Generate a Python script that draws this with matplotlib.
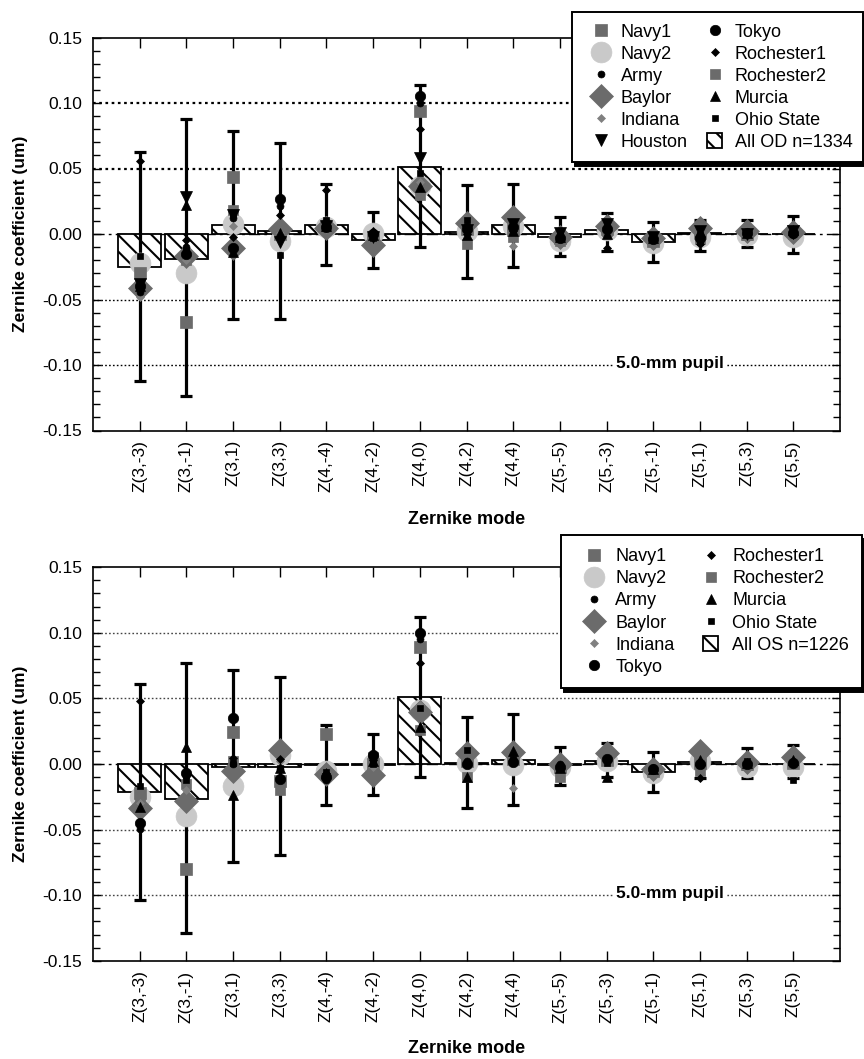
import matplotlib
matplotlib.use('Agg')
import matplotlib.pyplot as plt
from matplotlib.lines import Line2D
from matplotlib.patches import Patch, Rectangle
from matplotlib.legend_handler import HandlerPatch
from matplotlib.ticker import MultipleLocator, NullLocator

plt.rcParams['font.family'] = ['Liberation Sans', 'DejaVu Sans']
plt.rcParams['hatch.linewidth'] = 1.5

# ---------------- data ----------------
modes = ['Z(3,-3)', 'Z(3,-1)', 'Z(3,1)', 'Z(3,3)', 'Z(4,-4)', 'Z(4,-2)', 'Z(4,0)',
         'Z(4,2)', 'Z(4,4)', 'Z(5,-5)', 'Z(5,-3)', 'Z(5,-1)', 'Z(5,1)', 'Z(5,3)', 'Z(5,5)']
ytick_values = [-0.15, -0.10, -0.05, 0.00, 0.05, 0.10, 0.15]
ytick_labels = ['-0.15', '-0.10', '-0.05', '0.00', '0.05', '0.10', '0.15']

# Top panel: right eyes (OD)
od_mean = [-0.0254, -0.0188, 0.0069, 0.0023, 0.0071, -0.0046, 0.0509, 0.0018, 0.0069,
           -0.0025, 0.0030, -0.0059, 0.0005, 0.0003, 0.0003]
od_hi = [0.0623, 0.0875, 0.0789, 0.0697, 0.0380, 0.0170, 0.1137, 0.0374, 0.0380,
         0.0127, 0.0158, 0.0094, 0.0110, 0.0110, 0.0137]
od_lo = [-0.1120, -0.1240, -0.0650, -0.0646, -0.0234, -0.0260, -0.0102, -0.0338, -0.0250,
         -0.0168, -0.0127, -0.0210, -0.0127, -0.0097, -0.0143]

od_navy1 = [-0.030, -0.067, 0.0437, 0.000, 0.005, -0.003, 0.094, 0.004, 0.003, -0.003, 0.004, -0.005, 0.001, 0.000, 0.002]
od_navy2 = [-0.022, -0.030, 0.008, -0.005, 0.005, 0.0005, 0.037, 0.002, 0.006, -0.005, 0.003, -0.007, -0.002, -0.001, -0.002]
od_army = [-0.044, -0.010, 0.012, 0.021, 0.008, 0.000, 0.100, 0.006, 0.004, -0.001, 0.005, -0.003, 0.000, 0.001, 0.001]
od_baylor = [-0.041, -0.017, -0.011, 0.0036, 0.0043, -0.0084, 0.037, 0.0082, 0.0132, -0.002, 0.006, -0.0033, 0.0043, 0.002, 0.0018]
od_indiana = [-0.048, -0.020, 0.006, 0.001, 0.004, -0.004, 0.040, 0.001, -0.009, -0.003, 0.002, -0.004, 0.000, 0.000, 0.000]
od_houston = [-0.038, 0.028, 0.0145, -0.006, 0.006, -0.002, 0.058, 0.003, 0.008, 0.001, 0.008, -0.002, 0.002, 0.000, 0.002]
od_tokyo = [-0.040, -0.015, -0.011, 0.0265, 0.005, 0.000, 0.105, 0.004, 0.005, -0.003, 0.004, -0.004, -0.003, 0.001, 0.001]
od_rochester1 = [0.056, -0.0046, -0.0025, 0.0145, 0.0336, 0.002, 0.080, 0.000, 0.002, -0.002, -0.011, -0.003, -0.008, 0.000, -0.001]
od_rochester2 = [-0.033, -0.020, 0.0183, 0.002, 0.004, -0.003, 0.0298, -0.0076, -0.002, -0.005, 0.002, -0.005, -0.004, -0.001, 0.000]
od_murcia = [-0.040, 0.022, -0.014, 0.001, 0.006, -0.001, 0.036, -0.001, 0.002, -0.002, 0.000, -0.003, 0.0015, 0.001, 0.003]
od_ohio = [-0.017, -0.012, 0.015, -0.016, 0.0107, -0.003, 0.0465, 0.011, 0.004, -0.001, 0.006, -0.004, -0.006, 0.000, 0.000]

# Bottom panel: left eyes (OS)
os_mean = [-0.0216, -0.0269, -0.0020, -0.0020, -0.0010, -0.0010, 0.0508, 0.0010, 0.0030,
           -0.0010, 0.0020, -0.0058, 0.0018, 0.0003, 0.0003]
os_hi = [0.0610, 0.0767, 0.0720, 0.0660, 0.0295, 0.0229, 0.1123, 0.0356, 0.0380,
         0.0132, 0.0163, 0.0094, 0.0130, 0.0120, 0.0145]
os_lo = [-0.1040, -0.1290, -0.0750, -0.0690, -0.0310, -0.0234, -0.0097, -0.0335, -0.0310,
         -0.0160, -0.0097, -0.0210, -0.0110, -0.0105, -0.0110]

os_navy1 = [-0.0224, -0.080, 0.0242, -0.013, 0.0226, 0.000, 0.0894, 0.002, 0.004, -0.002, 0.003, -0.005, 0.001, 0.000, 0.001]
os_navy2 = [-0.025, -0.0396, -0.0168, 0.007, -0.005, 0.000, 0.041, 0.001, -0.001, -0.002, 0.002, -0.007, 0.002, -0.002, -0.002]
os_army = [-0.0498, -0.009, 0.000, -0.004, -0.012, 0.004, 0.095, 0.002, 0.003, 0.000, 0.004, -0.003, 0.000, 0.000, 0.000]
os_baylor = [-0.0338, -0.028, -0.005, 0.0107, -0.0076, -0.0084, 0.040, 0.0081, 0.0094, 0.000, 0.0081, -0.004, 0.0101, 0.0018, 0.005]
os_indiana = [-0.030, -0.020, 0.000, 0.002, -0.006, -0.002, 0.045, 0.000, -0.0185, -0.002, 0.002, -0.004, 0.000, 0.000, 0.001]
os_tokyo = [-0.045, -0.007, 0.0348, -0.0117, -0.0097, 0.0068, 0.100, 0.000, 0.0018, -0.002, 0.004, -0.004, 0.000, 0.000, 0.001]
os_rochester1 = [0.048, -0.005, 0.0048, 0.004, -0.007, 0.003, 0.0767, 0.001, 0.003, -0.001, 0.003, -0.003, -0.011, 0.001, 0.002]
os_rochester2 = [-0.028, -0.015, 0.002, -0.0198, -0.008, 0.0056, 0.026, -0.0097, 0.005, -0.0097, 0.004, -0.005, -0.005, -0.001, 0.001]
os_murcia = [-0.0325, 0.0132, -0.0236, -0.003, -0.007, 0.002, 0.028, -0.0097, 0.010, -0.003, -0.0097, -0.004, 0.003, 0.001, 0.003]
os_ohio = [-0.0168, -0.012, 0.001, -0.003, -0.006, 0.000, 0.043, 0.0107, 0.004, -0.003, 0.001, -0.004, -0.001, 0.002, -0.012]

od_labs = {'Navy1': od_navy1, 'Navy2': od_navy2, 'Army': od_army, 'Baylor': od_baylor,
           'Indiana': od_indiana, 'Houston': od_houston, 'Tokyo': od_tokyo,
           'Rochester1': od_rochester1, 'Rochester2': od_rochester2, 'Murcia': od_murcia,
           'Ohio State': od_ohio}
os_labs = {'Navy1': os_navy1, 'Navy2': os_navy2, 'Army': os_army, 'Baylor': os_baylor,
           'Indiana': os_indiana, 'Tokyo': os_tokyo, 'Rochester1': os_rochester1,
           'Rochester2': os_rochester2, 'Murcia': os_murcia, 'Ohio State': os_ohio}
od_bar_label = 'All OD n=1334'
os_bar_label = 'All OS n=1226'

# ---------------- styles ----------------
DARK = '#6b6b6b'
LIGHT = '#c9c9c9'
MID = '#808080'
HATCH = '\\\\'
lab_styles = {
    'Navy1': dict(marker='s', ms=8, color=DARK),
    'Navy2': dict(marker='o', ms=15, color=LIGHT),
    'Army': dict(marker='o', ms=5, color='black'),
    'Baylor': dict(marker='D', ms=12.5, color=DARK),
    'Indiana': dict(marker='D', ms=4.2, color=MID),
    'Houston': dict(marker='v', ms=8, color='black'),
    'Tokyo': dict(marker='o', ms=7.5, color='black'),
    'Rochester1': dict(marker='D', ms=4.2, color='black'),
    'Rochester2': dict(marker='s', ms=7, color=DARK),
    'Murcia': dict(marker='^', ms=7.5, color='black'),
    'Ohio State': dict(marker='s', ms=4.5, color='black'),
}
draw_order = ['Navy2', 'Baylor', 'Navy1', 'Rochester2', 'Indiana', 'Houston', 'Murcia',
              'Tokyo', 'Army', 'Rochester1', 'Ohio State']


def make_square(legend, orig_handle, xdescent, ydescent, width, height, fontsize):
    s = height
    return Rectangle((-xdescent + (width - s) / 2.0, -ydescent), s, s)


def draw_panel(ax, mean, hi, lo, labs, grid_lw_pos, grid_color):
    x = list(range(1, len(modes) + 1))
    for yv in (0.10, 0.05):
        ax.axhline(yv, ls=(0, (1.2, 1.6)), color=grid_color, lw=grid_lw_pos, zorder=0.5)
    for yv in (-0.05, -0.10):
        ax.axhline(yv, ls=(0, (1.2, 1.6)), color=grid_color, lw=1.0, zorder=0.5)
    ax.axhline(0, ls=(0, (8, 3, 2, 3)), color='black', lw=1.0, zorder=0.5)
    ax.bar(x, mean, width=0.92, facecolor='white', edgecolor='black', linewidth=1.3,
           hatch=HATCH, zorder=1)
    yerr = [[m - l for m, l in zip(mean, lo)], [h - m for m, h in zip(mean, hi)]]
    ax.errorbar(x, mean, yerr=yerr, fmt='none', ecolor='black', elinewidth=2.3,
                capsize=4, capthick=2.3, zorder=2)
    z = 3
    for name in draw_order:
        if name not in labs:
            continue
        st = lab_styles[name]
        ax.plot(x, labs[name], ls='none', marker=st['marker'], ms=st['ms'],
                markerfacecolor=st['color'], markeredgecolor=st['color'],
                markeredgewidth=0.5, zorder=z)
        z += 0.1
    ax.text(11.2, -0.0985, '5.0-mm pupil', fontweight='bold', fontsize=12.5,
            ha='left', va='center', zorder=10,
            bbox=dict(facecolor='white', edgecolor='none', pad=1.2))

    ax.set_xlim(0, len(modes) + 1)
    ax.set_ylim(-0.15, 0.15)
    ax.set_xticks(x)
    ax.set_xticklabels(modes, rotation=90, fontsize=12.5)
    ax.xaxis.set_minor_locator(NullLocator())
    ax.set_yticks(ytick_values)
    ax.set_yticklabels(ytick_labels, fontsize=12.5)
    ax.yaxis.set_minor_locator(MultipleLocator(0.01))
    ax.tick_params(axis='both', which='both', direction='in', top=True, right=True,
                   width=1.0)
    ax.tick_params(axis='x', which='major', length=7, pad=7)
    ax.tick_params(axis='y', which='major', length=6, pad=8)
    ax.tick_params(axis='y', which='minor', length=5)
    for sp in ax.spines.values():
        sp.set_linewidth(1.2)
    ax.set_xlabel('Zernike mode', fontweight='bold', fontsize=13)
    ax.set_ylabel('Zernike coefficient (um)', fontweight='bold', fontsize=12.5)
    ax.yaxis.set_label_coords(-0.087, 0.5)


def build_legend(fig, labs, bar_label, anchor, borderpad, handlelength, colspacing):
    handles = []
    labels = []
    for name in labs:
        st = lab_styles[name]
        handles.append(Line2D([], [], ls='none', marker=st['marker'], ms=st['ms'],
                              markerfacecolor=st['color'], markeredgecolor=st['color'],
                              markeredgewidth=0.5))
        labels.append(name)
    handles.append(Patch(facecolor='white', edgecolor='black', hatch=HATCH, linewidth=1.3))
    labels.append(bar_label)
    leg = fig.legend(handles, labels, loc='upper left', bbox_to_anchor=anchor,
                     bbox_transform=fig.transFigure, ncol=2, fontsize=13,
                     frameon=True, fancybox=False, framealpha=1, edgecolor='black',
                     borderpad=borderpad, handlelength=handlelength, handleheight=0.9,
                     handletextpad=0.1, labelspacing=0.24, columnspacing=colspacing,
                     borderaxespad=0,
                     shadow={'ox': 2.5, 'oy': -3, 'facecolor': 'black',
                             'edgecolor': 'black', 'alpha': 1},
                     handler_map={Patch: HandlerPatch(patch_func=make_square)})
    leg.get_frame().set_linewidth(1.4)
    return leg


fig = plt.figure(figsize=(8.64, 10.59), dpi=100)
ax1 = fig.add_axes([93 / 864, 1 - 430.5 / 1059, 747 / 864, 393 / 1059])
ax2 = fig.add_axes([93 / 864, 1 - 960.8 / 1059, 747 / 864, 393.6 / 1059])

draw_panel(ax1, od_mean, od_hi, od_lo, od_labs, 1.6, 'black')
draw_panel(ax2, os_mean, os_hi, os_lo, os_labs, 1.0, '#444444')
ax1.xaxis.set_label_coords(0.5, -0.204)
ax2.xaxis.set_label_coords(0.5, -0.201)

build_legend(fig, od_labs, od_bar_label, (572 / 864, 1 - 12 / 1059), 0.6, 2.0, 0.5)
build_legend(fig, os_labs, os_bar_label, (561 / 864, 1 - 535 / 1059), 0.7, 2.2, 0.9)

fig.savefig('out.png', dpi=100)
